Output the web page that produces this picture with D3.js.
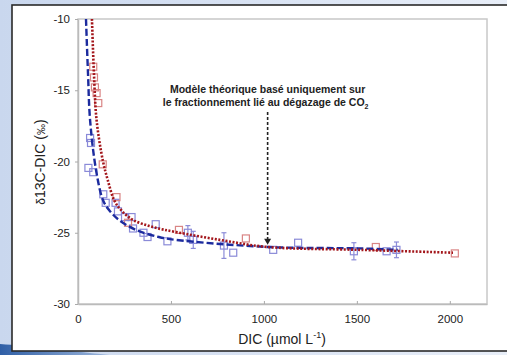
<!DOCTYPE html>
<html>
<head>
<meta charset="utf-8">
<script src="https://cdn.jsdelivr.net/npm/d3@7"></script>
<style>
  body { margin: 0; background: #dfe7f4; }
  svg { display: block; }
</style>
</head>
<body>
<div id="chart"></div>
<script>
// measured points (DIC µmol/L, d13C permil), err = half error bar (0 = none)
var blueDIC = [65, 70, 56, 82, 136, 149, 202, 215, 253, 288, 296, 352, 374, 418, 481, 591, 620, 785, 835, 1050, 1184, 1484, 1660, 1713];
var blueD13 = [-18.35, -18.7, -20.45, -20.75, -22.3, -22.9, -22.9, -23.5, -23.9, -23.9, -24.7, -25.0, -25.3, -24.4, -25.6, -25.0, -25.5, -25.9, -26.4, -26.2, -25.7, -26.3, -26.3, -26.2];
var blueErr = [0, 0, 0, 0, 0, 0, 0, 0, 0, 0, 0, 0, 0, 0, 0, 0.5, 0.6, 0.9, 0, 0, 0, 0.6, 0, 0.55];

var redDIC = [82, 86, 91, 100, 109, 133, 207, 269, 543, 903, 1602, 2027];
var redD13 = [-13.35, -14.1, -14.8, -15.2, -15.9, -20.2, -22.5, -24.3, -24.8, -25.4, -26.0, -26.45];

// model curves
var blueFitDIC = [43, 54, 65, 97, 134, 167, 220, 312, 435, 527, 1021, 1516, 1720];
var blueFitD13 = [-10, -13.9, -17.1, -20.6, -22.7, -23.4, -24.1, -24.8, -25.3, -25.5, -26.0, -26.1, -26.2];
var redFitDIC = [75, 86, 100, 133, 160, 194, 231, 296, 403, 527, 763, 1021, 1516, 2017];
var redFitD13 = [-10, -13.9, -17.1, -19.9, -21.3, -22.7, -23.4, -24.1, -24.6, -24.95, -25.5, -26.0, -26.2, -26.4];

var xTicks = [0, 500, 1000, 1500, 2000];
var yTicks = [-30, -25, -20, -15, -10];

var noteLines = ["Modèle théorique basé uniquement sur", "le fractionnement lié au dégazage de CO"];
var noteDIC = 1020, noteTip = -25.85;

var W = 507, H = 355;
var svg = d3.select("#chart").append("svg")
    .attr("width", W)
    .attr("height", H);

var defs = svg.append("defs");
var bg = defs.append("linearGradient").attr("id", "bg").attr("x1", 0).attr("x2", 1);
bg.append("stop").attr("offset", 0).attr("stop-color", "#c9d7ee");
bg.append("stop").attr("offset", 1).attr("stop-color", "#e8eef8");
var sw = defs.append("linearGradient").attr("id", "sw").attr("x1", 0).attr("x2", 1);
sw.append("stop").attr("offset", 0).attr("stop-color", "#2f5fa6");
sw.append("stop").attr("offset", 1).attr("stop-color", "#9fb8dd");

svg.append("rect").attr("width", W).attr("height", H).attr("fill", "url(#bg)");
// bottom-left swoosh
svg.append("path")
    .attr("d", "M0,344 C30,346 60,350 110,355 L0,355 Z")
    .attr("fill", "url(#sw)");

// white slide panel
svg.append("rect")
    .attr("x", 12).attr("y", 5)
    .attr("width", 510).attr("height", 346)
    .attr("fill", "#fff")
    .attr("stroke", "#2a2a2a")
    .attr("stroke-width", 1.6);

var x = d3.scaleLinear().domain([0, 2200]).range([78, 487]);
var y = d3.scaleLinear().domain([-30, -10]).range([304, 19]);

// plot frame
svg.append("rect")
    .attr("x", x(0)).attr("y", y(-10))
    .attr("width", x(2200) - x(0)).attr("height", y(-30) - y(-10))
    .attr("fill", "none")
    .attr("stroke", "#c8c8c8")
    .attr("stroke-width", 1.5);

var fmt = function(d) { return String(d); };
var xAxis = d3.axisBottom(x).tickValues(xTicks).tickFormat(fmt).tickSizeInner(-3).tickSizeOuter(0).tickPadding(11);
var yAxis = d3.axisLeft(y).tickValues(yTicks).tickFormat(fmt).tickSizeInner(3).tickSizeOuter(0).tickPadding(5);

var gx = svg.append("g").attr("transform", "translate(0," + y(-30) + ")").call(xAxis);
var gy = svg.append("g").attr("transform", "translate(" + x(0) + ",0)").call(yAxis);
[gx, gy].forEach(function(g) {
  g.select(".domain").attr("stroke", "#bbb").attr("stroke-width", 1.5);
  g.selectAll(".tick line").attr("stroke", "#aaa");
  g.selectAll(".tick text")
    .style("font-family", "Liberation Sans, Arial, sans-serif")
    .style("font-size", "11.5px")
    .attr("fill", "#222");
});

// axis titles
var xt = svg.append("text")
    .attr("x", 282).attr("y", 344)
    .attr("text-anchor", "middle")
    .style("font-family", "Liberation Sans, Arial, sans-serif")
    .style("font-size", "14px")
    .attr("fill", "#222");
xt.append("tspan").text("DIC (µmol L");
xt.append("tspan").attr("dy", -6).style("font-size", "9px").text("-1");
xt.append("tspan").attr("dy", 6).text(")");

var yt = svg.append("text")
    .attr("transform", "translate(45,162) rotate(-90)")
    .attr("text-anchor", "middle")
    .style("font-family", "Liberation Sans, Arial, sans-serif")
    .style("font-size", "14px")
    .attr("fill", "#222");
yt.append("tspan").style("font-size", "12px").text("δ");
yt.append("tspan").text("13C-DIC (");
yt.append("tspan").style("font-size", "11px").text("‰");
yt.append("tspan").text(")");

var lineX = d3.line()
    .x(function(d) { return x(d[0]); })
    .y(function(d) { return y(d[1]); })
    .curve(d3.curveCatmullRom.alpha(0.5));

// points
var blue = blueDIC.map(function(v, i) { return {x: v, y: blueD13[i], e: blueErr[i]}; });
var red = redDIC.map(function(v, i) { return {x: v, y: redD13[i]}; });

var eb = svg.append("g").attr("stroke", "#8c8cd8").attr("stroke-width", 1.2);
blue.filter(function(d) { return d.e > 0; }).forEach(function(d) {
  eb.append("line").attr("x1", x(d.x)).attr("x2", x(d.x)).attr("y1", y(d.y - d.e)).attr("y2", y(d.y + d.e));
  eb.append("line").attr("x1", x(d.x) - 2.5).attr("x2", x(d.x) + 2.5).attr("y1", y(d.y - d.e)).attr("y2", y(d.y - d.e));
  eb.append("line").attr("x1", x(d.x) - 2.5).attr("x2", x(d.x) + 2.5).attr("y1", y(d.y + d.e)).attr("y2", y(d.y + d.e));
});

var s = 7;
svg.append("g").selectAll("rect").data(blue).enter().append("rect")
    .attr("x", function(d) { return x(d.x) - s / 2; })
    .attr("y", function(d) { return y(d.y) - s / 2; })
    .attr("width", s).attr("height", s)
    .attr("fill", "none")
    .attr("stroke", "#8a8ad8")
    .attr("stroke-width", 1.2);

svg.append("g").selectAll("rect").data(red).enter().append("rect")
    .attr("x", function(d) { return x(d.x) - s / 2; })
    .attr("y", function(d) { return y(d.y) - s / 2; })
    .attr("width", s).attr("height", s)
    .attr("fill", "none")
    .attr("stroke", "#d98585")
    .attr("stroke-width", 1.2);

// model curves
svg.append("path")
    .datum(blueFitDIC.map(function(v, i) { return [v, blueFitD13[i]]; }))
    .attr("d", lineX)
    .attr("fill", "none")
    .attr("stroke", "#1c2b9e")
    .attr("stroke-width", 2.4)
    .attr("stroke-dasharray", "7,3");

svg.append("path")
    .datum(redFitDIC.map(function(v, i) { return [v, redFitD13[i]]; }))
    .attr("d", lineX)
    .attr("fill", "none")
    .attr("stroke", "#a3161b")
    .attr("stroke-width", 2.6)
    .attr("stroke-dasharray", "2,1.6");

// annotation
var note = svg.append("text")
    .attr("text-anchor", "middle")
    .style("font-family", "Liberation Sans, Arial, sans-serif")
    .style("font-size", "10.5px")
    .style("font-weight", "bold")
    .attr("fill", "#222");
note.append("tspan").attr("x", x(noteDIC)).attr("y", 93).text(noteLines[0]);
note.append("tspan").attr("x", x(noteDIC) - 2).attr("y", 106).text(noteLines[1]);
note.append("tspan").attr("dy", 3).style("font-size", "7px").text("2");

svg.append("line")
    .attr("x1", x(noteDIC)).attr("x2", x(noteDIC))
    .attr("y1", 112).attr("y2", y(noteTip) - 5)
    .attr("stroke", "#222")
    .attr("stroke-width", 1.6)
    .attr("stroke-dasharray", "3,2");
svg.append("path")
    .attr("d", "M" + (x(noteDIC) - 3.5) + "," + (y(noteTip) - 6) + " L" + (x(noteDIC) + 3.5) + "," + (y(noteTip) - 6) + " L" + x(noteDIC) + "," + y(noteTip) + " Z")
    .attr("fill", "#222");
</script>
</body>
</html>
